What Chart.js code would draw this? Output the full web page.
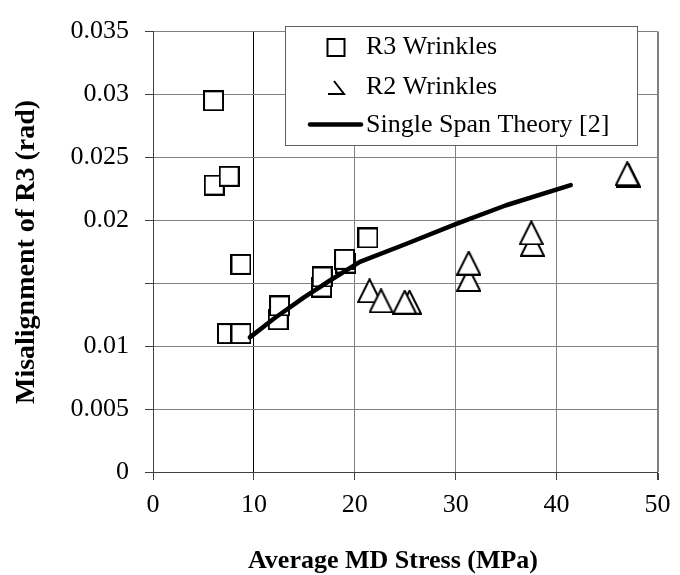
<!DOCTYPE html>
<html>
<head>
<meta charset="utf-8">
<script src="https://cdn.jsdelivr.net/npm/chart.js@4/dist/chart.umd.min.js"></script>
<style>
  html, body { margin: 0; padding: 0; background: #ffffff; }
  #wrap { width: 680px; height: 575px; }
</style>
</head>
<body>
<div id="wrap"><canvas id="chart" width="680" height="575"></canvas></div>
<script>
// R3 wrinkles: average MD stress (MPa) and measured misalignment (rad)
const r3Stress   = [6.0, 6.07, 7.55, 8.72, 7.38, 8.72, 12.41, 12.54, 16.7, 16.77, 19.1, 18.98, 21.3];
const r3Misalign = [0.0295, 0.0228, 0.0235, 0.0165, 0.0110, 0.0110, 0.0121, 0.0132, 0.0147, 0.0155, 0.0166, 0.0169, 0.0186];

// R2 wrinkles
const r2Stress   = [21.46, 22.6, 25.42, 24.95, 31.29, 31.29, 37.6, 37.49, 47.1, 47.0];
const r2Misalign = [0.0144, 0.0136, 0.0135, 0.0135, 0.0153, 0.0166, 0.0181, 0.0190, 0.0236, 0.0237];

// Single span theory curve
const theoryStress   = [9.6, 12.0, 15.0, 17.5, 20.5, 25.0, 30.0, 35.0, 41.4];
const theoryMisalign = [0.0107, 0.0122, 0.0139, 0.0152, 0.0167, 0.0181, 0.0197, 0.0212, 0.0228];

// Axis tick labels (the 0.015 tick carries no label)
const xTickLabels = ['0', '10', '20', '30', '40', '50'];
const yTickLabels = ['0', '0.005', '0.01', '', '0.02', '0.025', '0.03', '0.035'];

const seriesNames = ['R3 Wrinkles', 'R2 Wrinkles', 'Single Span Theory [2]'];
const xTitle = 'Average MD Stress (MPa)';
const yTitle = 'Misalignment of R3 (rad)';

const FONT = "'Liberation Serif', 'Times New Roman', serif";

function toPoints(xs, ys) {
  return xs.map((x, i) => ({ x: x, y: ys[i] }));
}

// Hollow (white-filled) marker images
function squareMarker(side) {
  const c = document.createElement('canvas');
  c.width = side + 2; c.height = side + 2;
  const g = c.getContext('2d');
  g.fillStyle = '#ffffff';
  g.strokeStyle = '#000000';
  g.lineWidth = 2;
  g.fillRect(1, 1, side, side);
  g.strokeRect(1, 1, side, side);
  return c;
}
function triangleMarker(w, h) {
  const c = document.createElement('canvas');
  c.width = w + 2; c.height = h + 2;
  const g = c.getContext('2d');
  g.fillStyle = '#ffffff';
  g.strokeStyle = '#000000';
  g.lineWidth = 2;
  g.beginPath();
  g.moveTo(1 + w / 2, 1);
  g.lineTo(1 + w, 1 + h);
  g.lineTo(1, 1 + h);
  g.closePath();
  g.fill();
  g.stroke();
  return c;
}

const squareImg = squareMarker(19);
const triangleImg = triangleMarker(23, 23);

// Legend box inside the plot area, plus the two axis titles
const decorPlugin = {
  id: 'decor',
  afterDatasetsDraw(chart) {
    const ctx = chart.ctx;
    const L = 285.5, T = 26.5, R = 637.5, B = 145.5;
    ctx.save();
    ctx.fillStyle = '#ffffff';
    ctx.fillRect(L, T, R - L, B - T);
    ctx.strokeStyle = '#606060';
    ctx.lineWidth = 1;
    ctx.strokeRect(L, T, R - L, B - T);

    // R3 marker
    ctx.strokeStyle = '#000000';
    ctx.lineWidth = 2;
    ctx.strokeRect(327.5, 39, 17, 17);

    // R2 marker
    ctx.beginPath();
    ctx.moveTo(334, 81);
    ctx.lineTo(344, 94);
    ctx.lineTo(328, 94);
    ctx.stroke();

    // Theory line sample
    ctx.lineWidth = 4.5;
    ctx.lineCap = 'round';
    ctx.beginPath();
    ctx.moveTo(310, 124.5);
    ctx.lineTo(361, 124.5);
    ctx.stroke();

    ctx.fillStyle = '#000000';
    ctx.font = "26px " + FONT;
    ctx.textBaseline = 'middle';
    ctx.textAlign = 'left';
    ctx.fillText(seriesNames[0], 366, 47.5);
    ctx.fillText(seriesNames[1], 366, 87);
    ctx.fillText(seriesNames[2], 366, 125.5);
    ctx.restore();
  },
  afterDraw(chart) {
    const ctx = chart.ctx;
    ctx.save();
    ctx.fillStyle = '#000000';
    ctx.textAlign = 'center';
    ctx.textBaseline = 'middle';
    ctx.font = "bold 26px " + FONT;
    ctx.fillText(xTitle, 393, 561);
    ctx.translate(27, 252);
    ctx.rotate(-Math.PI / 2);
    ctx.font = "bold 28px " + FONT;
    ctx.fillText(yTitle, 0, 0);
    ctx.restore();
  }
};

new Chart(document.getElementById('chart'), {
  type: 'scatter',
  data: {
    datasets: [
      {
        label: seriesNames[2],
        data: toPoints(theoryStress, theoryMisalign),
        showLine: true,
        borderColor: '#000000',
        borderWidth: 4.5,
        borderCapStyle: 'round',
        borderJoinStyle: 'round',
        tension: 0,
        pointRadius: 0,
        pointHoverRadius: 0
      },
      {
        label: seriesNames[1],
        data: toPoints(r2Stress, r2Misalign),
        pointStyle: triangleImg,
        pointRadius: 11,
        showLine: false
      },
      {
        label: seriesNames[0],
        data: toPoints(r3Stress, r3Misalign),
        pointStyle: squareImg,
        pointRadius: 10,
        showLine: false
      }
    ]
  },
  options: {
    responsive: false,
    devicePixelRatio: 1,
    animation: false,
    events: [],
    layout: { padding: { left: 0, right: 18.5, top: 20, bottom: 0 } },
    plugins: {
      legend: { display: false },
      tooltip: { enabled: false }
    },
    scales: {
      x: {
        type: 'linear',
        min: 0,
        max: 50,
        afterFit(scale) { scale.height = 103; },
        afterBuildTicks(scale) {
          scale.ticks = xTickLabels.map((t, i) => ({ value: i * 10 }));
        },
        ticks: {
          color: '#000000',
          font: { family: FONT, size: 26 },
          padding: 9.5,
          maxRotation: 0,
          callback: (v, i) => xTickLabels[i]
        },
        grid: {
          color: (c) => (c.tick && (c.tick.value === 10 || c.tick.value === 0)) ? '#000000' : '#808080',
          lineWidth: (c) => (c.tick && c.tick.value === 50) ? 2 : 1,
          tickColor: '#404040',
          tickLength: 8,
          drawTicks: true
        },
        border: { color: '#404040', width: 1 },
        title: { display: false }
      },
      y: {
        type: 'linear',
        min: 0,
        max: 0.035,
        afterFit(scale) { scale.width = 153; },
        afterBuildTicks(scale) {
          scale.ticks = yTickLabels.map((t, i) => ({ value: i * 0.005 }));
        },
        ticks: {
          color: '#000000',
          font: { family: FONT, size: 26 },
          padding: 16,
          callback: (v, i) => yTickLabels[i]
        },
        grid: {
          color: (c) => (c.tick && c.tick.value === 0) ? '#404040' : '#808080',
          lineWidth: 1,
          tickColor: '#404040',
          tickLength: 8,
          drawTicks: true
        },
        border: { color: '#404040', width: 1 },
        title: { display: false }
      }
    }
  },
  plugins: [decorPlugin]
});
</script>
</body>
</html>
